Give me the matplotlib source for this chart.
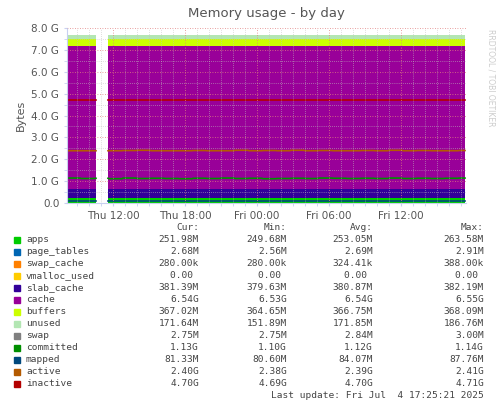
#!/usr/bin/env python3
"""Munin style 'Memory usage - by day' chart."""
import numpy as np
import matplotlib.pyplot as plt

G = 1024 ** 3
M = 1024 ** 2

# time axis: hours since Thu 00:00, 5 minute steps
t_start, t_end = 8.17, 41.42
hours = np.arange(t_start, t_end, 5 / 60)
gap = (hours > 10.62) & (hours < 11.55) & ~((hours > 11.15) & (hours < 11.25))

# stacked areas (bottom to top), in bytes
stack_names = ["apps", "page_tables", "swap_cache", "vmalloc_used", "slab_cache",
               "cache", "buffers", "unused", "swap"]
stack_colors = ["#00cc00", "#0066b3", "#ff8000", "#ffcc00", "#330099",
                "#990099", "#ccff00", "#b3e6b3", "#808080"]
stack_values = [252 * M, 2.68 * M, 0.28 * M, 0.0, 381 * M,
                6.54 * G, 367 * M, 171 * M, 2.75 * M]

# line series
committed_steps = [1.14, 1.12, 1.13, 1.11, 1.14, 1.12, 1.13, 1.12, 1.11, 1.13,
                   1.12, 1.14, 1.12, 1.13, 1.11, 1.12, 1.13, 1.12, 1.14, 1.13,
                   1.12, 1.13, 1.12, 1.14, 1.12, 1.13, 1.12, 1.13, 1.14, 1.13]
active_steps = [2.39, 2.39, 2.39, 2.39, 2.40, 2.41, 2.39, 2.39, 2.39, 2.40,
                2.39, 2.39, 2.41, 2.39, 2.40, 2.39, 2.41, 2.39, 2.40, 2.39,
                2.39, 2.40, 2.39, 2.41, 2.39, 2.40, 2.39, 2.39, 2.40, 2.40]
line_names = ["committed", "mapped", "active", "inactive"]
line_colors = ["#008f00", "#00487d", "#b35a00", "#b30000"]

legend_rows = [
    ("apps", "251.98M", "249.68M", "253.05M", "263.58M"),
    ("page_tables", "2.68M", "2.56M", "2.69M", "2.91M"),
    ("swap_cache", "280.00k", "280.00k", "324.41k", "388.00k"),
    ("vmalloc_used", "0.00 ", "0.00 ", "0.00 ", "0.00 "),
    ("slab_cache", "381.39M", "379.63M", "380.87M", "382.19M"),
    ("cache", "6.54G", "6.53G", "6.54G", "6.55G"),
    ("buffers", "367.02M", "364.65M", "366.75M", "368.09M"),
    ("unused", "171.64M", "151.89M", "171.85M", "186.76M"),
    ("swap", "2.75M", "2.75M", "2.84M", "3.00M"),
    ("committed", "1.13G", "1.10G", "1.12G", "1.14G"),
    ("mapped", "81.33M", "80.60M", "84.07M", "87.76M"),
    ("active", "2.40G", "2.38G", "2.39G", "2.41G"),
    ("inactive", "4.70G", "4.69G", "4.70G", "4.71G"),
]
legend_colors = stack_colors + line_colors

n = len(hours)


def expand(steps):
    vals = np.repeat(np.array(steps) * G, int(np.ceil(n / len(steps))))[:n]
    return vals


def with_gap(v):
    v = np.array(v, dtype=float)
    v[gap] = np.nan
    return v


fig = plt.figure(figsize=(4.97, 4.08), dpi=100)
fig.patch.set_facecolor("white")
ax = fig.add_axes([67 / 497, 205 / 408, 399 / 497, 175 / 408])

bottom = np.zeros(n)
for name, color, val in zip(stack_names, stack_colors, stack_values):
    top = bottom + val
    ax.fill_between(hours, with_gap(bottom), with_gap(top), color=color,
                    linewidth=0, zorder=1)
    bottom = top

line_data = [expand(committed_steps), np.full(n, 81.3 * M),
             expand(active_steps), np.full(n, 4.70 * G)]
for name, color, vals in zip(line_names, line_colors, line_data):
    ax.plot(hours, with_gap(vals), color=color, linewidth=1.2, zorder=2)

ax.set_xlim(t_start, t_end)
ax.set_ylim(0, 8 * G)
yt = np.arange(0, 9) * G
ax.set_yticks(yt)
ax.set_yticklabels(["0.0"] + [f"{i}.0 G" for i in range(1, 9)])
xt = [12, 18, 24, 30, 36]
ax.set_xticks(xt)
ax.set_xticklabels(["Thu 12:00", "Thu 18:00", "Fri 00:00", "Fri 06:00", "Fri 12:00"])
ax.set_xticks(np.arange(9, 42, 1), minor=True)
ax.set_yticks(np.arange(0.5, 8, 1) * G, minor=True)
ax.grid(True, which="major", color="#e08080", linestyle=(0, (1, 2)),
        linewidth=0.6, zorder=3)
ax.grid(True, which="minor", color="#c0c0c0", linestyle=(0, (1, 2)),
        linewidth=0.5, zorder=3)
ax.set_axisbelow(False)
for s in ["top", "right"]:
    ax.spines[s].set_visible(False)
for s in ["left", "bottom"]:
    ax.spines[s].set_color("#c8d0f0")
ax.tick_params(which="both", length=2, colors="#c8d0f0", labelcolor="#555555",
               labelsize=7.5)
ax.set_ylabel("Bytes", color="#555555", fontsize=8)
ax.set_title("Memory usage - by day", color="#555555", fontsize=9.5, pad=8)

fig.text(491 / 497, 0.93, "RRDTOOL / TOBI OETIKER", rotation=270, ha="center",
         va="top", fontsize=5.5, color="#cccccc")

mono = dict(family="DejaVu Sans Mono", fontsize=6.8, color="#444444")
cols = [199, 287, 373, 484]
heads = ["Cur:", "Min:", "Avg:", "Max:"]
for x, h in zip(cols, heads):
    fig.text(x / 497, 1 - 228 / 408, h, ha="right", va="center", **mono)
for i, (row, color) in enumerate(zip(legend_rows, legend_colors)):
    y = 1 - (240 + i * 12) / 408
    fig.patches.append(plt.Rectangle((14 / 497, y - 3 / 408), 6 / 497, 6 / 408,
                                     transform=fig.transFigure, color=color))
    fig.text(26 / 497, y, row[0], ha="left", va="center", **mono)
    for x, v in zip(cols, row[1:]):
        fig.text(x / 497, y, v, ha="right", va="center", **mono)
fig.text(484 / 497, 1 - 396 / 408, "Last update: Fri Jul  4 17:25:21 2025",
         ha="right", va="center", **mono)

fig.savefig("out.png", dpi=100)
